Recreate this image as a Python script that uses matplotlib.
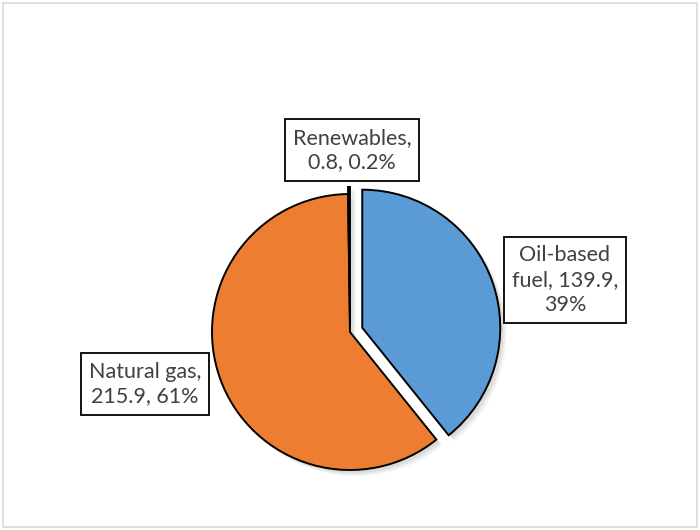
import numpy as np
import matplotlib.pyplot as plt
from matplotlib.patches import Rectangle

labels = ['Oil-based\nfuel, 139.9,\n39%', 'Natural gas,\n215.9, 61%', 'Renewables,\n0.8, 0.2%']
values = [139.9, 215.9, 0.8]
colors = ['#5B9BD5', '#ED7D31', '#A5A5A5']
explode = [13, 0, 7]  # pie explode is in data units here (pixels)
label_pos = [(565, 250), (145, 146), (352, 380)]

plt.rcParams['font.family'] = ['Lato', 'DejaVu Sans']

fig = plt.figure(figsize=(7, 5.3), dpi=100)
ax = fig.add_axes([0, 0, 1, 1])

cx, cy, r = 350, 198, 138

# soft shadow: a few offset gray copies
for k, a in [(6, 0.08), (4.5, 0.10), (3, 0.12)]:
    ax.pie(values, startangle=90, counterclock=False, explode=explode,
           center=(cx + k, cy - k), radius=r,
           colors=['#7f7f7f'] * 3, wedgeprops=dict(linewidth=0, alpha=a))

ax.pie(values, startangle=90, counterclock=False, explode=explode,
       center=(cx, cy), radius=r, colors=colors,
       wedgeprops=dict(edgecolor='black', linewidth=1.4))

for lab, (x, y) in zip(labels, label_pos):
    ax.text(x, y, lab, ha='center', va='center', fontsize=15.5, color='#404040',
            linespacing=1.3,
            bbox=dict(boxstyle='square,pad=0.38', facecolor='white', edgecolor='black', linewidth=1.3))

ax.set_xlim(0, 700)
ax.set_ylim(0, 530)
ax.set_aspect('equal')
ax.axis('off')

fig.patches.append(Rectangle((3, 3), 694, 524, transform=None, fill=False,
                             edgecolor='#D9D9D9', linewidth=1.2))

fig.savefig('out.png', dpi=100)
